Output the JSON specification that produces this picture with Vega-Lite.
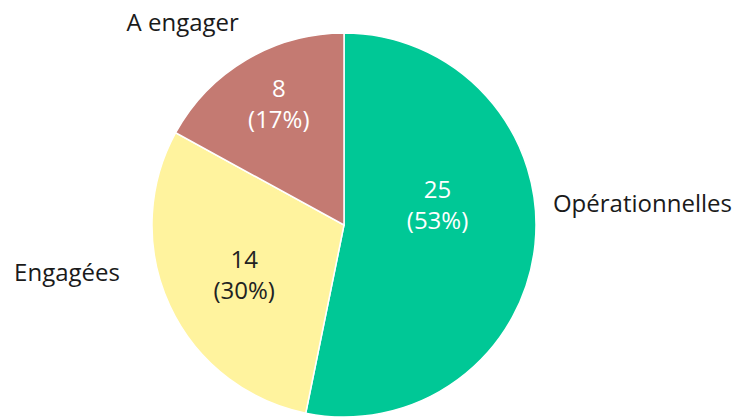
{
  "$schema": "https://vega.github.io/schema/vega-lite/v6.json",
  "width": 688,
  "height": 450,
  "autosize": "none",
  "padding": {"left": 0, "top": 0, "right": 58, "bottom": 0},
  "background": "white",
  "view": {"stroke": null},
  "config": {"text": {"font": "Open Sans", "fontSize": 24}},
  "data": {
    "values": [
      {"cat": "Opérationnelles", "value": 25, "label": "25\n(53%)", "o": 1},
      {"cat": "Engagées", "value": 14, "label": "14\n(30%)", "o": 2},
      {"cat": "A engager", "value": 8, "label": "8\n(17%)", "o": 3}
    ]
  },
  "encoding": {
    "theta": {"field": "value", "type": "quantitative", "stack": true},
    "order": {"field": "o", "type": "quantitative"}
  },
  "layer": [
    {
      "mark": {"type": "arc", "outerRadius": 192, "stroke": "#ffffff", "strokeWidth": 1.5},
      "encoding": {
        "color": {
          "field": "cat", "type": "nominal", "legend": null,
          "scale": {"domain": ["Opérationnelles", "Engagées", "A engager"], "range": ["#00c896", "#fff39e", "#c47a72"]}
        }
      }
    },
    {
      "mark": {"type": "text", "radius": 94, "dy": -43, "align": "center", "baseline": "middle", "lineBreak": "\n", "lineHeight": 31, "fill": "#ffffff"},
      "encoding": {"text": {"condition": {"test": "datum.cat === 'Opérationnelles'", "field": "label"}, "value": ""}}
    },
    {
      "mark": {"type": "text", "radius": 110, "dy": -10, "align": "center", "baseline": "middle", "lineBreak": "\n", "lineHeight": 31, "fill": "#222222"},
      "encoding": {"text": {"condition": {"test": "datum.cat === 'Engagées'", "field": "label"}, "value": ""}}
    },
    {
      "mark": {"type": "text", "radius": 128, "dy": -25, "align": "center", "baseline": "middle", "lineBreak": "\n", "lineHeight": 31, "fill": "#ffffff"},
      "encoding": {"text": {"condition": {"test": "datum.cat === 'A engager'", "field": "label"}, "value": ""}}
    },
    {
      "mark": {"type": "text", "radius": 210, "dy": -41, "align": "left", "baseline": "middle", "fill": "#1a1a1a"},
      "encoding": {"text": {"condition": {"test": "datum.cat === 'Opérationnelles'", "field": "cat"}, "value": ""}}
    },
    {
      "mark": {"type": "text", "radius": 247, "dy": -55, "align": "right", "baseline": "middle", "fill": "#1a1a1a"},
      "encoding": {"text": {"condition": {"test": "datum.cat === 'Engagées'", "field": "cat"}, "value": ""}}
    },
    {
      "mark": {"type": "text", "radius": 240, "dx": -39, "dy": 5, "align": "center", "baseline": "middle", "fill": "#1a1a1a"},
      "encoding": {"text": {"condition": {"test": "datum.cat === 'A engager'", "field": "cat"}, "value": ""}}
    }
  ]
}
